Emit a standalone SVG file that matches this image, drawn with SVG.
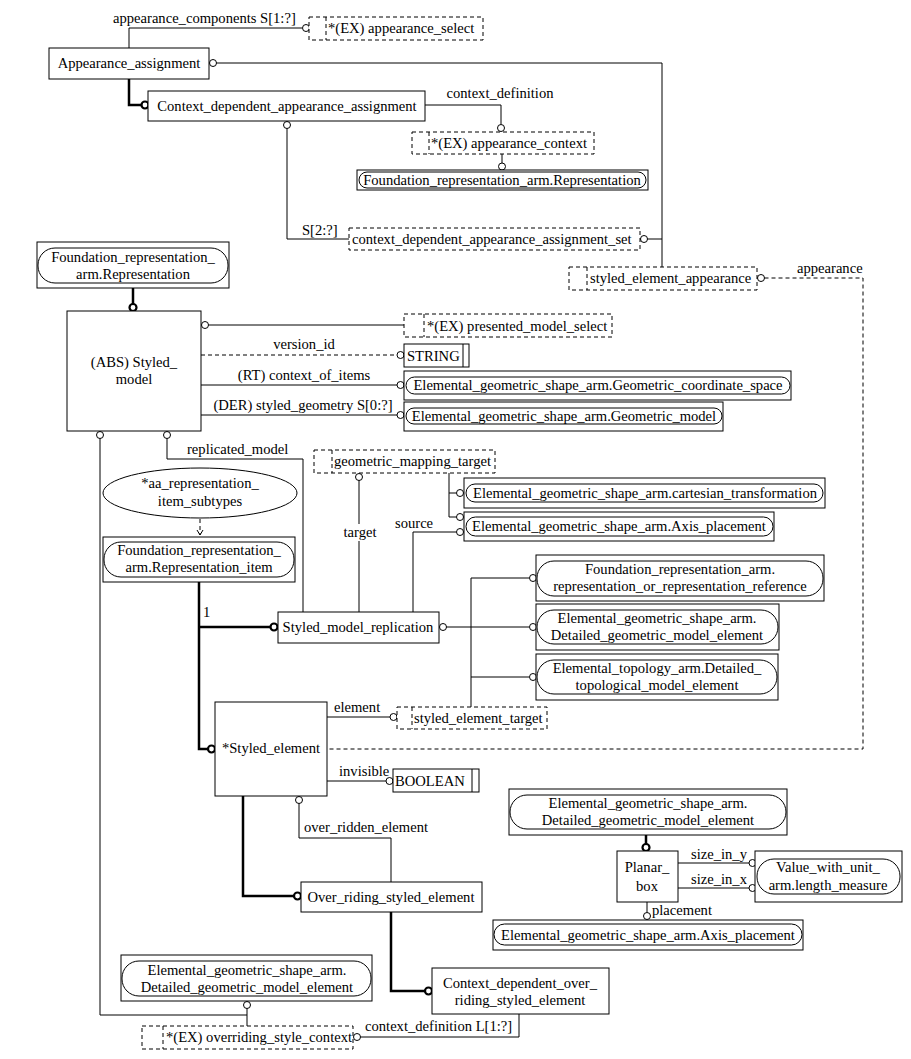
<svg xmlns="http://www.w3.org/2000/svg" width="911" height="1059" viewBox="0 0 911 1059">
<style>
text{font-family:"Liberation Serif","Times New Roman",serif;font-size:14.6px;fill:#000}
.m{text-anchor:middle}
.b{fill:#fff;stroke:#000;stroke-width:1}
.r{fill:none;stroke:#000;stroke-width:1}
.d{fill:#fff;stroke:#000;stroke-width:1;stroke-dasharray:4,3}
.dv{fill:none;stroke:#000;stroke-width:1;stroke-dasharray:4,3}
.l{fill:none;stroke:#000;stroke-width:1}
.dl{fill:none;stroke:#000;stroke-width:1;stroke-dasharray:4,3}
.t{fill:none;stroke:#000;stroke-width:2.5}
.c{fill:#fff;stroke:#000;stroke-width:1}
.ct{fill:#fff;stroke:#000;stroke-width:2.2}
</style>
<rect width="911" height="1059" fill="#fff"/>
<g id="connectors">
<path class="l" d="M129,48V28H302"/><circle class="c" cx="306" cy="28" r="3.5"/>
<text x="113" y="23">appearance_components S[1:?]</text>
<circle class="c" cx="213" cy="63" r="3.5"/><path class="l" d="M216.5,63H662V267"/>
<path class="t" d="M129,79V105H141"/><circle class="ct" cx="145" cy="105" r="3.5"/>
<path class="l" d="M425,105H501V124"/><circle class="c" cx="501" cy="128" r="3.5"/>
<text x="500" y="98" class="m">context_definition</text>
<path class="l" d="M502,154V163"/><circle class="c" cx="502" cy="166.5" r="3.5"/>
<circle class="c" cx="287" cy="125" r="3.5"/><path class="l" d="M287,128.5V239H349"/>
<text x="302" y="235">S[2:?]</text>
<circle class="c" cx="644" cy="239" r="3.5"/><path class="l" d="M647.5,239H662"/>
<circle class="c" cx="761" cy="278" r="3.5"/><path class="dl" d="M764.5,278H863V749H327"/>
<text x="797" y="273">appearance</text>
<path class="t" d="M133,288V304"/><circle class="ct" cx="133" cy="307.5" r="3.5"/>
<circle class="c" cx="205" cy="325" r="3.5"/><path class="l" d="M208.5,325H404"/>
<path class="dl" d="M201,355H397"/><circle class="c" cx="400.5" cy="355" r="3.5"/>
<text x="304" y="349" class="m">version_id</text>
<path class="l" d="M201,385H397"/><circle class="c" cx="400.5" cy="385" r="3.5"/>
<text x="304" y="380" class="m">(RT) context_of_items</text>
<path class="l" d="M201,415H397"/><circle class="c" cx="400.5" cy="415" r="3.5"/>
<text x="303" y="410" class="m">(DER) styled_geometry S[0:?]</text>
<circle class="c" cx="100" cy="435" r="3.5"/><path class="l" d="M100,438.5V1015H247"/>
<circle class="c" cx="167" cy="435" r="3.5"/><path class="l" d="M167,438.5V459H303V612"/>
<text x="187" y="454">replicated_model</text>
<circle class="c" cx="359" cy="477" r="3.5"/><path class="l" d="M359,480.5V612"/>
<rect x="341" y="524" width="38" height="17" fill="#fff"/>
<text x="360" y="537" class="m">target</text>
<path class="l" d="M449,473V517H456.5M449,493H456.5"/>
<circle class="c" cx="460" cy="493" r="3.5"/><circle class="c" cx="460" cy="517" r="3.5"/>
<path class="l" d="M413,612V532H456.5"/><circle class="c" cx="460" cy="532" r="3.5"/>
<text x="395" y="528">source</text>
<path class="t" d="M199,582V749H208M199,627H270"/>
<circle class="ct" cx="274" cy="627" r="3.5"/><circle class="ct" cx="211.5" cy="749" r="3.5"/>
<text x="203" y="617">1</text>
<circle class="c" cx="443" cy="627" r="3.5"/><path class="l" d="M446.5,627H529"/><circle class="c" cx="533" cy="627" r="3.5"/>
<path class="l" d="M471,578V707M471,578H529M471,677H529"/>
<circle class="c" cx="533" cy="578" r="3.5"/><circle class="c" cx="533" cy="677" r="3.5"/>
<path class="l" d="M327,717H390"/><circle class="c" cx="393.5" cy="717" r="3.5"/>
<text x="334" y="712">element</text>
<path class="l" d="M327,781H386"/><circle class="c" cx="389.5" cy="781" r="3.5"/>
<text x="339" y="776">invisible</text>
<path class="t" d="M243,796V896H294"/><circle class="ct" cx="297.5" cy="896" r="3.5"/>
<circle class="c" cx="299" cy="800" r="3.5"/><path class="l" d="M299,803.5V838H391V882"/>
<text x="304" y="832">over_ridden_element</text>
<path class="t" d="M391,912V991H425"/><circle class="ct" cx="428.5" cy="991" r="3.5"/>
<circle class="c" cx="247" cy="1005" r="3.5"/><path class="l" d="M247,1008.5V1026"/>
<circle class="c" cx="357" cy="1037" r="3.5"/><path class="l" d="M360.5,1037H519V1014"/>
<text x="365" y="1031">context_definition L[1:?]</text>
<path class="t" d="M646,835V844"/><circle class="ct" cx="646" cy="847.5" r="3.5"/>
<path class="l" d="M678,863H749"/><circle class="c" cx="752.5" cy="863" r="3.5"/>
<text x="691" y="859">size_in_y</text>
<path class="l" d="M678,888H749"/><circle class="c" cx="752.5" cy="888" r="3.5"/>
<text x="691" y="884">size_in_x</text>
<path class="l" d="M647,902V912.5"/><circle class="c" cx="647" cy="916" r="3.5"/>
<text x="652" y="915">placement</text>
<path class="dl" d="M200,519V535" stroke-dasharray="3,2"/><path class="l" d="M197,530L200,535L203,530"/>
</g>
<g id="appearance_select"><rect class="d" x="309" y="17" width="174" height="23"/><path class="dv" d="M326,17V40"/><text x="328" y="33">*(EX) appearance_select</text></g>
<g id="Appearance_assignment"><rect class="b" x="49" y="48" width="160" height="31"/><text x="129" y="68" class="m">Appearance_assignment</text></g>
<g id="Context_dependent_appearance_assignment"><rect class="b" x="148" y="91" width="277" height="30"/><text x="287" y="111" class="m">Context_dependent_appearance_assignment</text></g>
<g id="appearance_context"><rect class="d" x="412" y="132" width="182" height="22"/><path class="dv" d="M429,132V154"/><text x="431" y="148">*(EX) appearance_context</text></g>
<g id="FRA_Representation_top"><rect class="b" x="357" y="170" width="291" height="20"/><rect class="r" x="359" y="172" width="287" height="16" rx="8"/><text x="502" y="185" class="m">Foundation_representation_arm.Representation</text></g>
<g id="cdaa_set"><rect class="d" x="349" y="228" width="291" height="22"/><text x="352" y="244">context_dependent_appearance_assignment_set</text></g>
<g id="styled_element_appearance"><rect class="d" x="569" y="267" width="188" height="23"/><path class="dv" d="M587,267V290"/><text x="590" y="283">styled_element_appearance</text></g>
<g id="FRA_Representation_left"><rect class="b" x="37" y="242" width="192" height="46"/><rect class="r" x="38" y="248" width="190" height="35" rx="17"/><text x="133" y="262" class="m">Foundation_representation_</text><text x="133" y="279" class="m">arm.Representation</text></g>
<g id="Styled_model"><rect class="b" x="67" y="311" width="134" height="120"/><text x="134" y="367" class="m">(ABS) Styled_</text><text x="134" y="384" class="m">model</text></g>
<g id="presented_model_select"><rect class="d" x="404" y="314" width="208" height="23"/><path class="dv" d="M424,314V337"/><text x="427" y="331">*(EX) presented_model_select</text></g>
<g id="STRING"><rect class="b" x="404" y="344" width="65" height="23"/><path class="l" d="M463,344V367"/><text x="407" y="361">STRING</text></g>
<g id="Geometric_coordinate_space"><rect class="b" x="404" y="371" width="387" height="29"/><rect class="r" x="406" y="377" width="384" height="17" rx="8.5"/><text x="598" y="390" class="m">Elemental_geometric_shape_arm.Geometric_coordinate_space</text></g>
<g id="Geometric_model"><rect class="b" x="404" y="402" width="319" height="29"/><rect class="r" x="406" y="408" width="316" height="16" rx="8"/><text x="564" y="421" class="m">Elemental_geometric_shape_arm.Geometric_model</text></g>
<g id="geometric_mapping_target"><rect class="d" x="314" y="450" width="181" height="23"/><path class="dv" d="M332,450V473"/><text x="334" y="466">geometric_mapping_target</text></g>
<g id="cartesian_transformation"><rect class="b" x="464" y="478" width="361" height="30"/><rect class="r" x="466" y="484" width="357" height="18" rx="9"/><text x="645" y="498" class="m">Elemental_geometric_shape_arm.cartesian_transformation</text></g>
<g id="Axis_placement_mid"><rect class="b" x="464" y="512" width="310" height="29"/><rect class="r" x="466" y="517" width="307" height="19" rx="9.5"/><text x="619" y="531" class="m">Elemental_geometric_shape_arm.Axis_placement</text></g>
<g id="aa_representation_item_subtypes"><ellipse class="b" cx="200" cy="493" rx="97" ry="25"/><text x="200" y="488" class="m">*aa_representation_</text><text x="200" y="506" class="m">item_subtypes</text></g>
<g id="FRA_Representation_item"><rect class="b" x="103" y="537" width="192" height="45"/><rect class="r" x="104" y="542" width="190" height="35" rx="17"/><text x="199" y="555" class="m">Foundation_representation_</text><text x="199" y="572" class="m">arm.Representation_item</text></g>
<g id="representation_or_representation_reference"><rect class="b" x="536" y="555" width="288" height="46"/><rect class="r" x="537" y="561" width="286" height="35" rx="17"/><text x="680" y="574" class="m">Foundation_representation_arm.</text><text x="680" y="591" class="m">representation_or_representation_reference</text></g>
<g id="Styled_model_replication"><rect class="b" x="278" y="612" width="161" height="31"/><text x="358" y="632" class="m">Styled_model_replication</text></g>
<g id="Detailed_geometric_model_element_mid"><rect class="b" x="536" y="604" width="243" height="46"/><rect class="r" x="537" y="610" width="241" height="34" rx="17"/><text x="657" y="623" class="m">Elemental_geometric_shape_arm.</text><text x="657" y="640" class="m">Detailed_geometric_model_element</text></g>
<g id="Detailed_topological_model_element"><rect class="b" x="536" y="654" width="242" height="46"/><rect class="r" x="537" y="660" width="240" height="34" rx="17"/><text x="657" y="673" class="m">Elemental_topology_arm.Detailed_</text><text x="657" y="690" class="m">topological_model_element</text></g>
<g id="styled_element_target"><rect class="d" x="397" y="707" width="150" height="22"/><path class="dv" d="M412,707V729"/><text x="414" y="723">styled_element_target</text></g>
<g id="Styled_element"><rect class="b" x="215" y="702" width="112" height="94"/><text x="271" y="753" class="m">*Styled_element</text></g>
<g id="BOOLEAN"><rect class="b" x="393" y="769" width="86" height="23"/><path class="l" d="M472,769V792"/><text x="395" y="786">BOOLEAN</text></g>
<g id="Detailed_geometric_model_element_right"><rect class="b" x="509" y="789" width="278" height="46"/><rect class="r" x="510" y="795" width="276" height="34" rx="17"/><text x="648" y="808" class="m">Elemental_geometric_shape_arm.</text><text x="648" y="825" class="m">Detailed_geometric_model_element</text></g>
<g id="Planar_box"><rect class="b" x="617" y="851" width="61" height="51"/><text x="647" y="872" class="m">Planar_</text><text x="647" y="891" class="m">box</text></g>
<g id="Value_with_unit_arm_length_measure"><rect class="b" x="755" y="851" width="147" height="51"/><rect class="r" x="757" y="859" width="143" height="35" rx="17"/><text x="828" y="872" class="m">Value_with_unit_</text><text x="828" y="890" class="m">arm.length_measure</text></g>
<g id="Axis_placement_bottom"><rect class="b" x="493" y="920" width="310" height="30"/><rect class="r" x="494" y="924" width="308" height="21" rx="10.5"/><text x="648" y="940" class="m">Elemental_geometric_shape_arm.Axis_placement</text></g>
<g id="Over_riding_styled_element"><rect class="b" x="301" y="882" width="181" height="30"/><text x="391" y="902" class="m">Over_riding_styled_element</text></g>
<g id="Detailed_geometric_model_element_bottom"><rect class="b" x="121" y="955" width="251" height="46"/><rect class="r" x="122" y="961" width="249" height="35" rx="17"/><text x="247" y="975" class="m">Elemental_geometric_shape_arm.</text><text x="247" y="992" class="m">Detailed_geometric_model_element</text></g>
<g id="Context_dependent_over_riding_styled_element"><rect class="b" x="432" y="968" width="177" height="46"/><text x="520" y="988" class="m">Context_dependent_over_</text><text x="520" y="1005" class="m">riding_styled_element</text></g>
<g id="overriding_style_context"><rect class="d" x="142" y="1026" width="211" height="23"/><path class="dv" d="M163,1026V1049"/><text x="166" y="1042">*(EX) overriding_style_context</text></g>
</svg>
